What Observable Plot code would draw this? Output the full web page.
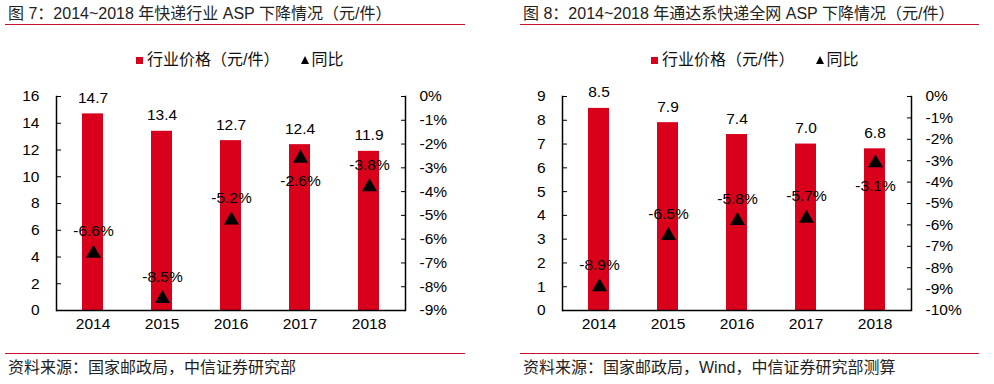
<!DOCTYPE html>
<html><head><meta charset="utf-8">
<script src="https://cdn.jsdelivr.net/npm/d3@7"></script>
<script src="https://cdn.jsdelivr.net/npm/@observablehq/plot@0.6"></script>
<style>
body{margin:0;background:#fff;}
#root{position:relative;width:994px;height:384px;overflow:hidden;font-family:"Liberation Sans","Noto Sans CJK SC",sans-serif;color:#000;}
.title{position:absolute;top:4px;font-size:16px;color:#222;white-space:nowrap;line-height:20px}
.hr{position:absolute;height:0;border-top:1.5px solid #c8102e;}
.legend{position:absolute;top:50px;font-size:16px;white-space:nowrap;line-height:20px;display:flex;align-items:center;color:#111}
.sw{display:inline-block;width:7px;height:7px;background:#d9001b;margin-right:4px}
.tri{display:inline-block;width:0;height:0;border-left:4.5px solid transparent;border-right:4.5px solid transparent;border-bottom:8px solid #000;margin-left:22px;margin-right:2px}
.src{position:absolute;top:358px;font-size:16px;color:#222;white-space:nowrap;line-height:20px}
.plotbox{position:absolute;top:80px}
.plotbox svg{position:absolute;left:0;top:0}
</style>
</head><body>
<div id="root"></div>
<script>
// ---- data ----
const years = ["2014", "2015", "2016", "2017", "2018"];
const fig7Price = [14.7, 13.4, 12.7, 12.4, 11.9];
const fig7Yoy = [-6.6, -8.5, -5.2, -2.6, -3.8];
const fig8Price = [8.5, 7.9, 7.4, 7.0, 6.8];
const fig8Yoy = [-8.9, -6.5, -5.8, -5.7, -3.1];
const fig7LeftTicks = [0, 2, 4, 6, 8, 10, 12, 14, 16];
const fig7RightTicks = [0, -1, -2, -3, -4, -5, -6, -7, -8, -9];
const fig8LeftTicks = [0, 1, 2, 3, 4, 5, 6, 7, 8, 9];
const fig8RightTicks = [0, -1, -2, -3, -4, -5, -6, -7, -8, -9, -10];
const fig7Title = "图 7：2014~2018 年快递行业 ASP 下降情况（元/件）";
const fig8Title = "图 8：2014~2018 年通达系快递全网 ASP 下降情况（元/件）";
const fig7Source = "资料来源：国家邮政局，中信证券研究部";
const fig8Source = "资料来源：国家邮政局，Wind，中信证券研究部测算";
const legendBar = "行业价格（元/件）";
const legendYoy = "同比";
// yoy labels drawn under the marker (to avoid the value labels)
const fig7YoyBelow = ["2017"];
const fig8YoyBelow = ["2018"];

const FONT = '"Liberation Sans","Noto Sans CJK SC",sans-serif';
const RED = "#d9001b";
const root = document.getElementById("root");

function el(cls, style, html) {
  const d = document.createElement("div");
  d.className = cls;
  Object.assign(d.style, style);
  if (html != null) d.innerHTML = html;
  root.appendChild(d);
  return d;
}

function panel({left, width, title, source, price, yoy, leftTicks, rightTicks, below, legendLeft, lineLeft, lineWidth}) {
  el("title", {left: (lineLeft + 3) + "px"}, title);
  el("hr", {left: lineLeft + "px", top: "24px", width: lineWidth + "px"});
  el("legend", {left: legendLeft + "px"}, `<span class="sw"></span>${legendBar}<span class="tri"></span>${legendYoy}`);
  el("hr", {left: lineLeft + "px", top: "353px", width: lineWidth + "px"});
  el("src", {left: (lineLeft + 3) + "px"}, source);

  const rows = years.map((year, i) => ({year, price: price[i], yoy: yoy[i]}));
  const H = 260, mL = 56, mR = width - 56 - 349, mT = 16, mB = 30;
  const style = {fontFamily: FONT, fontSize: "15.5px", color: "#000", background: "transparent", overflow: "visible"};
  const xOpt = {domain: years, paddingInner: 0.7, paddingOuter: 0.35, label: null};

  const a = Plot.plot({
    width, height: H, marginLeft: mL, marginRight: mR, marginTop: mT, marginBottom: mB,
    style,
    x: xOpt,
    y: {domain: [0, d3.max(leftTicks)], label: null},
    marks: [
      Plot.barY(rows, {x: "year", y: "price", fill: RED}),
      Plot.text(rows, {x: "year", y: "price", text: d => d.price.toFixed(1), dy: -16, fill: "#000"}),
      Plot.axisY(leftTicks, {anchor: "left", tickSize: -5, tickPadding: 22, tickFormat: d => String(d), label: null}),
      Plot.axisX({tickSize: 0, tickPadding: 7, label: null}),
      Plot.ruleY([0], {stroke: "#000", strokeWidth: 1.5}),
      Plot.frame({anchor: "left", stroke: "#000", strokeWidth: 1.5})
    ]
  });
  const b = Plot.plot({
    width, height: H, marginLeft: mL, marginRight: mR, marginTop: mT, marginBottom: mB,
    style,
    x: {...xOpt, axis: null},
    y: {domain: [d3.min(rightTicks), 0], label: null},
    marks: [
      Plot.dot(rows, {x: "year", y: "yoy", symbol: "triangle", r: 5.6, fill: "#000", stroke: "none"}),
      Plot.text(rows.filter(d => !below.includes(d.year)), {x: "year", y: "yoy", text: d => d.yoy.toFixed(1) + "%", dy: -22, fill: "#000"}),
      Plot.text(rows.filter(d => below.includes(d.year)), {x: "year", y: "yoy", text: d => d.yoy.toFixed(1) + "%", dy: 23, fill: "#000"}),
      Plot.axisY(rightTicks, {anchor: "right", tickSize: -5, tickPadding: 19, tickFormat: d => `${d}%`, label: null}),
      Plot.frame({anchor: "right", stroke: "#000", strokeWidth: 1.5})
    ]
  });
  const box = el("plotbox", {left: left + "px", width: width + "px", height: H + "px"});
  box.appendChild(a);
  box.appendChild(b);
}

panel({left: 0, width: 490, title: fig7Title, source: fig7Source, price: fig7Price, yoy: fig7Yoy,
  leftTicks: fig7LeftTicks, rightTicks: fig7RightTicks, below: fig7YoyBelow, legendLeft: 136, lineLeft: 5, lineWidth: 460});
panel({left: 506, width: 488, title: fig8Title, source: fig8Source, price: fig8Price, yoy: fig8Yoy,
  leftTicks: fig8LeftTicks, rightTicks: fig8RightTicks, below: fig8YoyBelow, legendLeft: 651, lineLeft: 520, lineWidth: 459});
</script>
</body></html>
